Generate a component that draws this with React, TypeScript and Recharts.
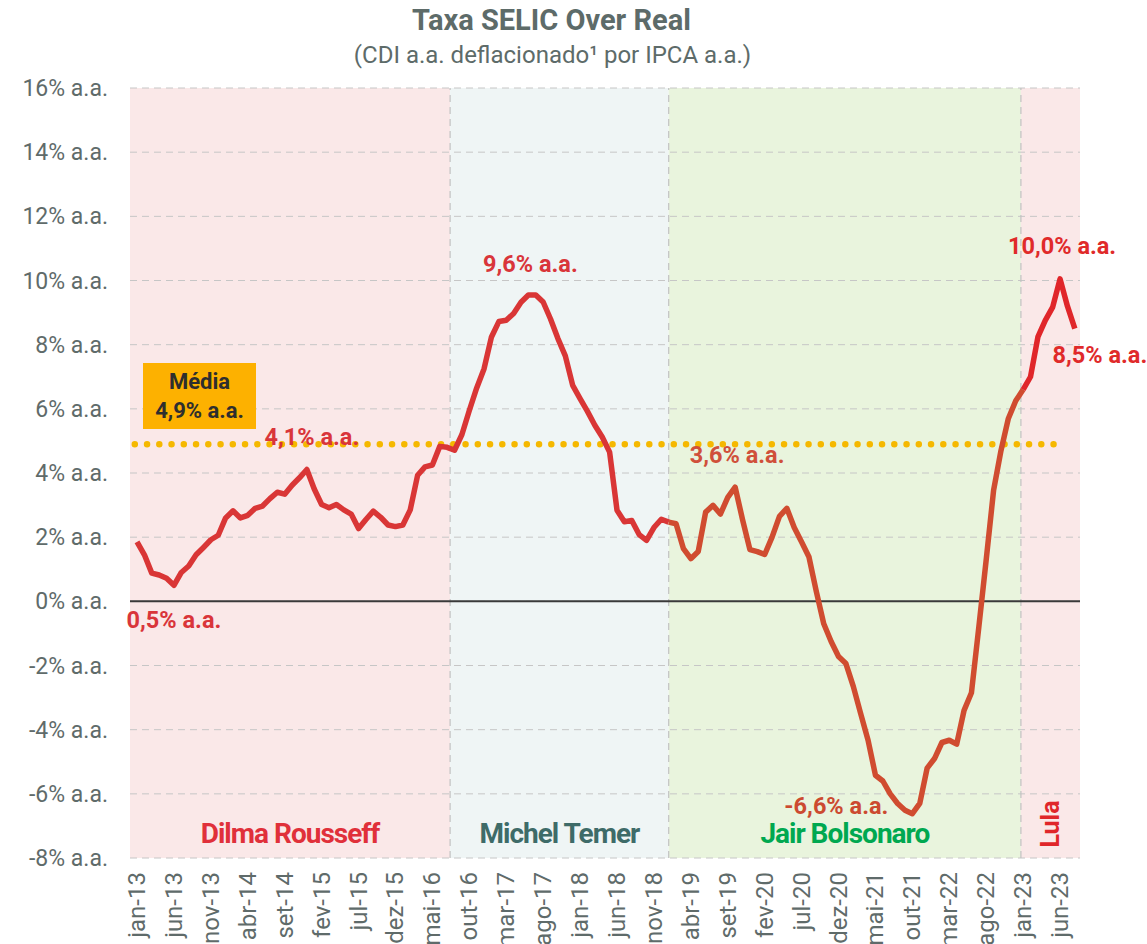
import React from "react";
import {
  ComposedChart,
  Line,
  XAxis,
  YAxis,
  CartesianGrid,
  ReferenceArea,
  ReferenceLine,
  ReferenceDot,
} from "recharts";

// Taxa SELIC over real, jan-13 .. ago-23 (mensal, % a.a.)
const realRate = [
  1.85, 1.45, 0.88, 0.82, 0.72, 0.5, 0.9, 1.1, 1.45, 1.68,
  1.92, 2.06, 2.6, 2.82, 2.6, 2.68, 2.9, 2.97, 3.2, 3.4,
  3.34, 3.62, 3.85, 4.11, 3.5, 3.02, 2.92, 3.02, 2.85, 2.72,
  2.27, 2.55, 2.81, 2.62, 2.38, 2.33, 2.38, 2.85, 3.93, 4.19,
  4.25, 4.83, 4.8, 4.71, 5.2, 5.95, 6.65, 7.25, 8.24, 8.72,
  8.76, 8.97, 9.32, 9.55, 9.55, 9.33, 8.8, 8.19, 7.65, 6.73,
  6.32, 5.92, 5.49, 5.12, 4.65, 2.84, 2.48, 2.52, 2.08, 1.9,
  2.3, 2.56, 2.47, 2.42, 1.64, 1.33, 1.55, 2.78, 2.99, 2.72,
  3.24, 3.56, 2.55, 1.61, 1.55, 1.46, 2.0, 2.65, 2.9, 2.3,
  1.85, 1.38, 0.3, -0.7, -1.25, -1.72, -1.94, -2.65, -3.5, -4.33,
  -5.42, -5.6, -6.0, -6.3, -6.51, -6.62, -6.3, -5.2, -4.9, -4.4,
  -4.33, -4.45, -3.4, -2.85, -0.8, 1.3, 3.46, 4.7, 5.7, 6.25,
  6.6, 7.0, 8.24, 8.76, 9.17, 10.05, 9.2, 8.5,
];

const tickLabels = [
  "jan-13", "jun-13", "nov-13", "abr-14", "set-14", "fev-15", "jul-15", "dez-15",
  "mai-16", "out-16", "mar-17", "ago-17", "jan-18", "jun-18", "nov-18", "abr-19",
  "set-19", "fev-20", "jul-20", "dez-20", "mai-21", "out-21", "mar-22", "ago-22",
  "jan-23", "jun-23",
];

const yTicks = [-8, -6, -4, -2, 0, 2, 4, 6, 8, 10, 12, 14, 16];

const average = 4.9;

// períodos de governo (em índice de mês)
const periods = [
  { name: "Dilma Rousseff", from: -0.95, to: 42.4, bg: "#fae8e8", color: "#e0303a" },
  { name: "Michel Temer", from: 42.4, to: 72, bg: "#eff5f5", color: "#3e6b68" },
  { name: "Jair Bolsonaro", from: 72, to: 119.7, bg: "#e9f4dd", color: "#00a850" },
  { name: "Lula", from: 119.7, to: 127.7, bg: "#fae8e8", color: "#e0262a" },
];

const annotations = [
  { i: 5, text: "0,5% a.a.", color: "#d9353a", dx: 0, dy: 43 },
  { i: 23, text: "4,1% a.a.", color: "#d9353a", dx: 5, dy: -24 },
  { i: 53, text: "9,6% a.a.", color: "#d9353a", dx: 2, dy: -23 },
  { i: 81, text: "3,6% a.a.", color: "#d0503a", dx: 2, dy: -24 },
  { i: 105, text: "-6,6% a.a.", color: "#cc4a30", dx: -76, dy: 0 },
  { i: 125, text: "10,0% a.a.", color: "#e02a2a", dx: 2, dy: -25 },
  { i: 127, text: "8,5% a.a.", color: "#e02a2a", dx: 25, dy: 34 },
];

const data = realRate.map((v, i) => ({
  i,
  red: i <= 72 ? v : null,
  orange: i >= 72 && i <= 120 ? v : null,
  lula: i >= 120 ? v : null,
}));

const FONT = "Roboto, 'Noto Sans', sans-serif";

const XTick = (props: any) => {
  const { x, y, payload } = props;
  const ty = y + 6;
  return (
    <text
      x={x}
      y={ty}
      transform={`rotate(-90 ${x} ${ty})`}
      textAnchor="end"
      dominantBaseline="central"
      fill="#5f6b6a"
      fontSize={24}
      fontFamily={FONT}
    >
      {tickLabels[Math.round(payload.value / 5)]}
    </text>
  );
};

const App = () => {
  return (
    <div style={{ position: "absolute", left: 0, top: 0, width: 1147, height: 944, background: "#fff", fontFamily: FONT, overflow: "hidden" }}>
      <div style={{ position: "absolute", left: 0, width: 1103, top: 3, textAlign: "center", fontSize: 29, fontWeight: 700, color: "#5d6b69" }}>
        Taxa SELIC Over Real
      </div>
      <div style={{ position: "absolute", left: 0, width: 1105, top: 41, textAlign: "center", fontSize: 24, color: "#5d6b69" }}>
        (CDI a.a. deflacionado¹ por IPCA a.a.)
      </div>
      <ComposedChart
        width={1147}
        height={944}
        data={data}
        margin={{ top: 88, right: 67, bottom: 0, left: 0 }}
      >
        {periods.map((p) => (
          <ReferenceArea
            key={p.name}
            x1={p.from}
            x2={p.to}
            y1={-8}
            y2={16}
            fill={p.bg}
            fillOpacity={1}
            stroke="none"
            ifOverflow="hidden"
            zIndex={-200}
            label={{
              content: (lp: any) => {
                const vb = lp.viewBox;
                const cx = vb.x + vb.width / 2;
                if (p.name === "Lula") {
                  const cy = vb.y + vb.height - 34;
                  return (
                    <text x={cx} y={cy} transform={`rotate(-90 ${cx} ${cy})`} textAnchor="middle" dominantBaseline="central" fill={p.color} fontSize={25} fontWeight={700} fontFamily={FONT}>
                      {p.name}
                    </text>
                  );
                }
                return (
                  <text x={cx} y={vb.y + vb.height - 15} textAnchor="middle" fill={p.color} fontSize={28} fontWeight={700} fontFamily={FONT} letterSpacing={-1}>
                    {p.name}
                  </text>
                );
              },
            }}
          />
        ))}
        <CartesianGrid vertical={false} stroke="#c6c6c6" strokeDasharray="7 5" />
        {periods.slice(1).map((p) => (
          <ReferenceLine key={"b" + p.name} x={p.from} stroke="#c2c2c2" strokeDasharray="7 5" strokeWidth={1.2} />
        ))}
        <XAxis
          type="number"
          dataKey="i"
          domain={[-0.95, 127.7]}
          allowDataOverflow
          ticks={tickLabels.map((_, k) => k * 5)}
          tick={<XTick />}
          tickLine={false}
          axisLine={false}
          height={86}
          interval={0}
        />
        <YAxis
          domain={[-8, 16]}
          ticks={yTicks}
          tickFormatter={(v: number) => `${v}% a.a.`}
          tick={{ fill: "#5f6b6a", fontSize: 23, fontFamily: FONT }}
          tickLine={false}
          axisLine={false}
          tickMargin={16}
          width={130}
          interval={0}
        />
        <ReferenceLine y={0} stroke="#3a3a3a" strokeWidth={2} />
        <ReferenceLine
          segment={[
            { x: -0.3, y: average },
            { x: 124.6, y: average },
          ]}
          stroke="#f5b800"
          strokeWidth={6.5}
          strokeDasharray="0 12.25"
          strokeLinecap="round"
        />
        <Line type="linear" dataKey="red" stroke="#d93636" strokeWidth={5.5} dot={false} isAnimationActive={false} strokeLinejoin="round" />
        <Line type="linear" dataKey="orange" stroke="#d04c30" strokeWidth={5.5} dot={false} isAnimationActive={false} strokeLinejoin="round" />
        <Line type="linear" dataKey="lula" stroke="#e0262a" strokeWidth={5.5} dot={false} isAnimationActive={false} strokeLinejoin="round" />
        {annotations.map((a) => (
          <ReferenceDot
            key={a.text}
            x={a.i}
            y={realRate[a.i]}
            r={0}
            fill="none"
            stroke="none"
            label={{
              content: (lp: any) => {
                const vb = lp.viewBox;
                return (
                  <text x={vb.x + vb.width / 2 + a.dx} y={vb.y + vb.height / 2 + a.dy} textAnchor="middle" fill={a.color} fontSize={23.5} fontWeight={700} fontFamily={FONT}>
                    {a.text}
                  </text>
                );
              },
            }}
          />
        ))}
      </ComposedChart>
      <div
        style={{
          position: "absolute",
          left: 143,
          top: 363,
          width: 113,
          height: 66,
          background: "#fdb100",
          color: "#2e2e2e",
          fontSize: 22,
          fontWeight: 700,
          lineHeight: "29px",
          textAlign: "center",
          paddingTop: 4,
          boxSizing: "border-box",
        }}
      >
        Média
        <br />
        4,9% a.a.
      </div>
    </div>
  );
};

export default App;
